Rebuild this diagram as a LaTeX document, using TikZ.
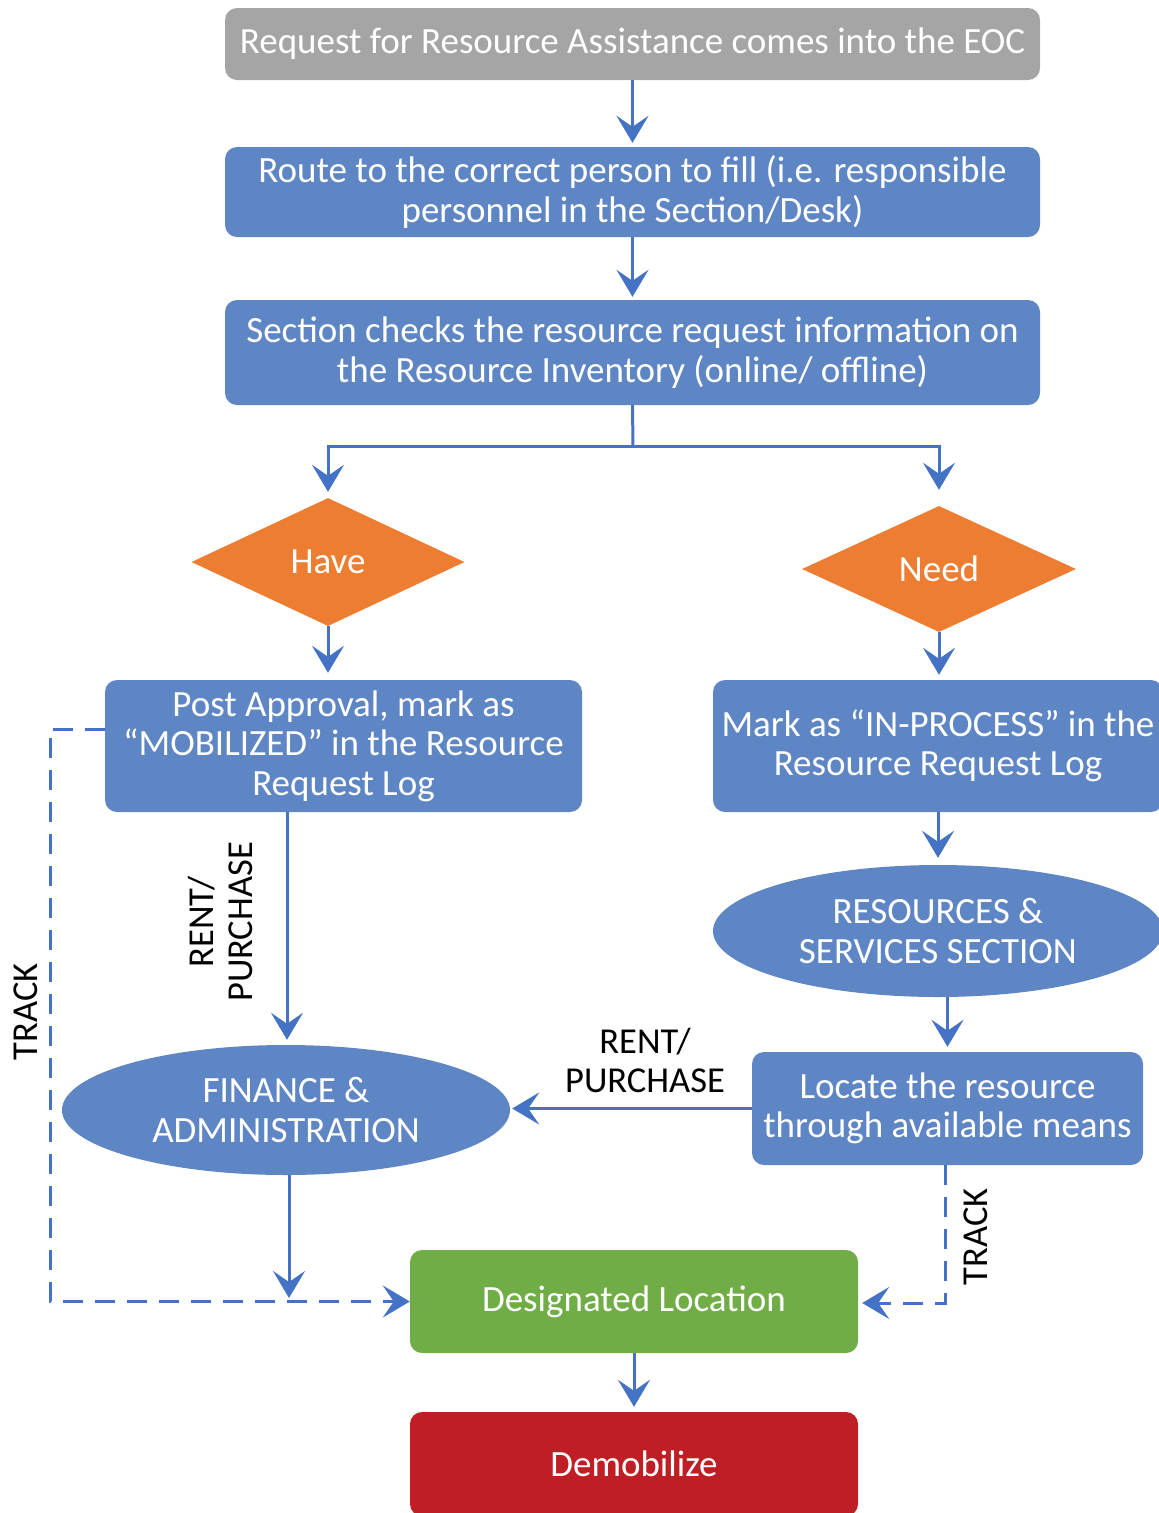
\documentclass[tikz,border=0pt]{standalone}
\usepackage{fontspec}
\setmainfont{Carlito}
\usetikzlibrary{shapes.geometric,arrows.meta,calc}

\definecolor{boxblue}{HTML}{5F86C4}
\definecolor{linkblue}{HTML}{4472C4}
\definecolor{boxgray}{HTML}{A5A5A5}
\definecolor{decorange}{HTML}{ED7D31}
\definecolor{boxgreen}{HTML}{70AD47}
\definecolor{boxred}{HTML}{BE1E24}

\tikzset{
  every node/.style={font=\fontsize{37}{39.5}\selectfont},
  procbox/.style={rectangle, rounded corners=12pt, fill=boxblue, text=white,
    align=center, inner sep=0pt},
  ovalbox/.style={ellipse, fill=boxblue, text=white, align=center, inner sep=0pt},
  decbox/.style={diamond, fill=decorange, text=white, inner sep=0pt, aspect=2.1},
  flow/.style={draw=linkblue, line width=3pt,
    -{Stealth[length=27pt,width=32pt,inset=11pt]}},
  trackline/.style={flow, dash pattern=on 20pt off 12pt},
  plainline/.style={draw=linkblue, line width=3pt},
  tag/.style={text=black, align=center, inner sep=0pt,
    font=\fontsize{36.5}{39}\selectfont},
}

\begin{document}
\begin{tikzpicture}[x=1pt, y=-1pt]
\useasboundingbox (0,0) rectangle (1159,1513);

% process boxes
\node[procbox, fill=boxgray, minimum width=815pt, minimum height=72pt] (req) at (632.5,44)
  {Request for Resource Assistance comes into the EOC};
\node[procbox, minimum width=815pt, minimum height=90pt] (route) at (632.5,192)
  {Route to the correct person to fill (i.e. responsible\\personnel in the Section/Desk)};
\node[procbox, minimum width=815pt, minimum height=105pt] (check) at (632.5,352.5)
  {Section checks the resource request information on\\the Resource Inventory (online/ offline)};

% decisions
\node[decbox, minimum width=273pt, minimum height=128pt] (have) at (328,562) {Have};
\node[decbox, minimum width=274pt, minimum height=126pt] (need) at (939,569) {Need};

\node[procbox, minimum width=477pt, minimum height=132pt] (post) at (343.5,746)
  {Post Approval, mark as\\“MOBILIZED” in the Resource\\Request Log};
\node[procbox, minimum width=450pt, minimum height=132pt] (mark) at (938,746)
  {Mark as “IN-PROCESS” in the\\Resource Request Log};
\node[ovalbox, minimum width=450pt, minimum height=132pt] (rss) at (938,931)
  {RESOURCES \&\\SERVICES SECTION};
\node[procbox, minimum width=391pt, minimum height=113pt] (locate) at (947.5,1108.5)
  {Locate the resource\\through available means};
\node[ovalbox, minimum width=448pt, minimum height=130pt] (fin) at (286,1110)
  {FINANCE \&\\ADMINISTRATION};
\node[procbox, fill=boxgreen, minimum width=448pt, minimum height=103pt] (dest) at (634,1301.5)
  {Designated Location};
\node[procbox, fill=boxred, minimum width=448pt, minimum height=104pt] (demob) at (634,1464)
  {Demobilize};

% helper points
\coordinate (split) at (633,446);
\coordinate (postfoot) at (287,812);
\coordinate (finfoot) at (289,1298);
\coordinate (trackL) at (50,729);
\coordinate (trackR) at (945,1303);

% main flow
\draw[flow, shorten >=4pt] (req.south) -- (route.north);
\draw[flow, shorten >=3pt] (route.south) -- (check.north);
\draw[plainline] (check.south) -- (split);
\draw[flow, shorten >=6pt] (split) -- (split -| have.north) -- (have.north);
\draw[flow, shorten >=16pt] (split) -- (split -| need.north) -- (need.north);
\draw[flow, shorten >=7pt] (have.south) -- (have.south |- post.north);
\draw[flow, shorten >=5pt] (need.south) -- (need.south |- mark.north);
\draw[flow, shorten >=7pt] (mark.south) -- (rss.north);
\draw[flow, shorten >=5pt] (rss.south -| locate.north) -- (locate.north);
\draw[flow, shorten >=2pt] (locate.west) -- (locate.west -| fin.east);
\draw[flow, shorten >=5pt] (postfoot) -- (fin.north -| postfoot);
\draw[flow] (fin.south -| finfoot) -- (finfoot);
\draw[flow, shorten >=5pt] (dest.south) -- (demob.north);

% tracking paths
\draw[trackline] (post.west |- trackL) -- (trackL) |- (dest.west);
\draw[trackline, shorten >=4pt] (locate.south -| trackR) -- (trackR) -- (dest.east |- trackR);

% connector labels
\node[tag] (rph) at (645,1060) {RENT/\\PURCHASE};
\node[tag, rotate=90] (rp) at (220,922) {RENT/\\PURCHASE};
\node[tag, rotate=90] (tl) at (26,1012) {TRACK};
\node[tag, rotate=90] (tr) at (976,1237) {TRACK};
\end{tikzpicture}
\end{document}
